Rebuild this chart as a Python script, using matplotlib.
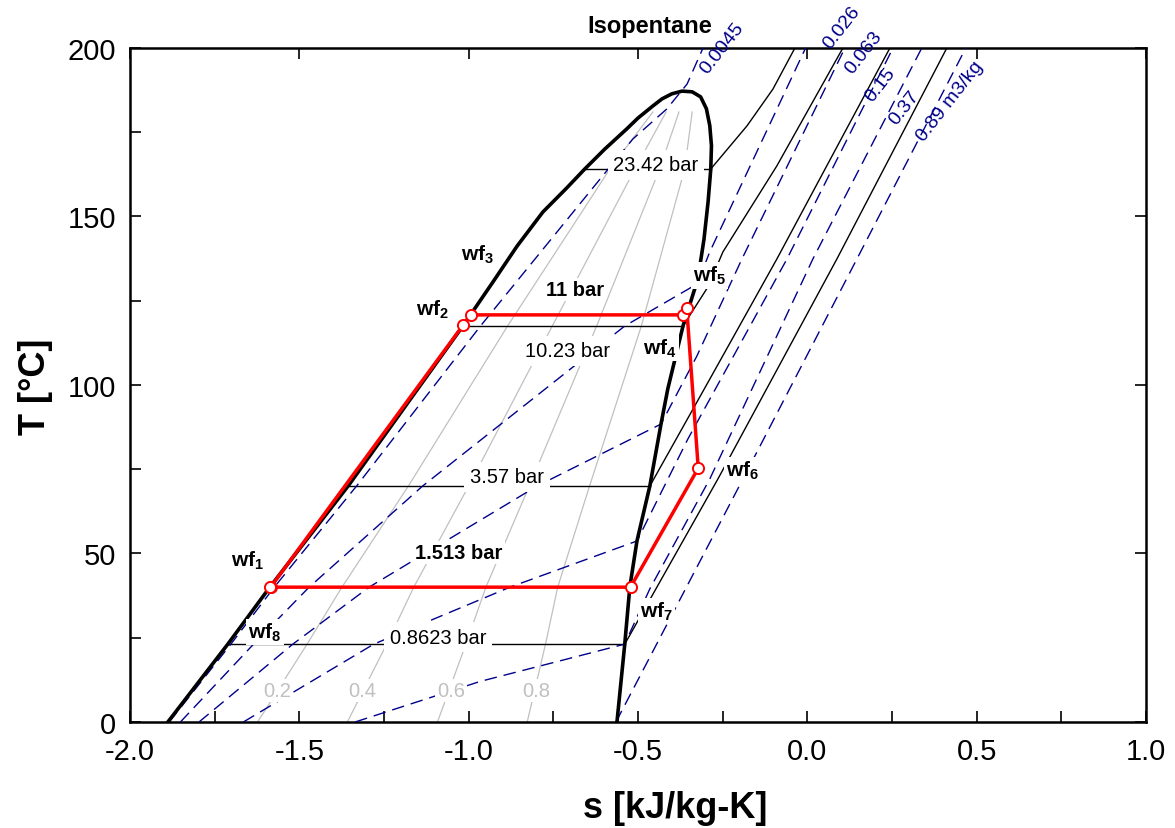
import numpy as np
import matplotlib
matplotlib.use("Agg")
import matplotlib.pyplot as plt
from matplotlib.ticker import MultipleLocator, FormatStrFormatter

plt.rcParams['font.family'] = ['Liberation Sans', 'DejaVu Sans']
plt.rcParams['axes.unicode_minus'] = False
plt.rcParams['mathtext.fontset'] = 'custom'
plt.rcParams['mathtext.rm'] = 'Liberation Sans'
plt.rcParams['mathtext.bf'] = 'Liberation Sans:bold'

# saturation dome (s [kJ/kg-K], T [C]), liquid side up, vapour side down
dome_s = [-1.888, -1.711, -1.587, -1.356, -1.017, -0.928, -0.857, -0.781, -0.710,
          -0.657, -0.598, -0.533, -0.500, -0.456, -0.429, -0.400, -0.370, -0.340,
          -0.315, -0.298, -0.288, -0.283, -0.285, -0.293, -0.305, -0.323, -0.367,
          -0.412, -0.432, -0.465, -0.503, -0.524, -0.539, -0.562]
dome_T = [0.0, 23.1, 40.0, 70.0, 117.5, 130.6, 141.2, 151.3, 158.5,
          164.1, 170.0, 176.0, 179.2, 182.8, 184.9, 186.4, 187.2, 187.0,
          185.5, 182.0, 177.0, 171.0, 164.1, 154.3, 143.3, 131.5, 117.5,
          98.8, 88.4, 70.0, 53.7, 40.1, 23.1, 0.0]

# isobars: name, two-phase temperature, liquid s, vapour s, superheated branch
bar_names = ['23.42 bar', '10.23 bar', '3.57 bar', '0.8623 bar']
bar_T = [164.1, 117.5, 70.0, 23.1]
bar_sl = [-0.657, -1.017, -1.356, -1.711]
bar_sv = [-0.285, -0.367, -0.465, -0.539]
sup_s = [[-0.285, -0.178, -0.1015, -0.0366],
         [-0.367, -0.2934, -0.2491, -0.09, 0.1051],
         [-0.465, -0.2876, -0.0898, 0.2439],
         [-0.539, -0.264, 0.0874, 0.412]]
sup_T = [[164.1, 176.9, 187.8, 200.0],
         [117.5, 129.1, 139.5, 165.0, 200.0],
         [70.0, 101.8, 137.4, 200.0],
         [23.1, 72.1, 137.4, 200.0]]
bar_lab_s = [-0.447, -0.707, -0.887, -1.091]
bar_lab_T = [165.3, 110.1, 72.7, 25.2]

# isochores (m3/kg)
vol_names = ['0.0045', '0.026', '0.063', '0.15', '0.37', '0.89 m3/kg']
vol_s = [[-1.884, -1.702, -1.574, -1.331, -0.965, -0.612, -0.515, -0.415, -0.355, -0.308],
         [-1.851, -1.635, -1.471, -1.136, -0.539, -0.325, -0.288, -0.005],
         [-1.796, -1.519, -1.294, -0.798, -0.432, -0.326, -0.193, 0.111],
         [-1.665, -1.280, -0.878, -0.503, -0.3525, -0.060, 0.253],
         [-1.335, -0.967, -0.539, -0.465, -0.288, 0.0165, 0.338],
         [-0.565, -0.190, 0.1465, 0.468]]
vol_T = [[0.0, 23.1, 40.0, 70.0, 117.5, 161.1, 173.0, 181.9, 189.3, 200.0],
         [0.0, 23.1, 40.0, 70.0, 117.5, 130.0, 139.5, 200.0],
         [0.0, 23.1, 40.0, 70.0, 88.4, 108.6, 137.4, 200.0],
         [0.0, 23.1, 40.0, 53.7, 84.0, 137.4, 200.0],
         [0.0, 12.0, 23.1, 39.5, 72.1, 137.4, 200.0],
         [0.0, 72.1, 137.4, 200.0]]
vol_lab_s = [-0.252, 0.102, 0.167, 0.217, 0.288, 0.421]
vol_lab_T = [200.0, 206.2, 198.8, 189.3, 182.5, 184.3]

# quality lines x = 0.2, 0.4, 0.6, 0.8
q_names = ['0.2', '0.4', '0.6', '0.8']
q_T = [0.0, 23.1, 40.0, 70.0, 117.5, 164.1, 181.0]
q_s = [[-1.623, -1.477, -1.374, -1.178, -0.885, -0.583, -0.456],
       [-1.358, -1.242, -1.162, -1.000, -0.753, -0.509, -0.417],
       [-1.092, -1.008, -0.949, -0.821, -0.622, -0.436, -0.379],
       [-0.827, -0.773, -0.737, -0.643, -0.490, -0.362, -0.340]]
q_lab_s = [-1.566, -1.315, -1.052, -0.801]
q_lab_T = [9.2, 9.2, 9.2, 9.2]

# cycle states wf1..wf8
wf_s = [-1.584, -1.016, -0.994, -0.368, -0.356, -0.322, -0.522, -1.587]
wf_T = [40.1, 117.8, 120.8, 120.8, 122.8, 75.3, 40.0, 40.0]
wf_lab_s = [-1.652, -1.108, -0.973, -0.435, -0.288, -0.190, -0.444, -1.601]
wf_lab_T = [48.1, 122.6, 138.9, 111.0, 132.6, 74.8, 32.9, 26.7]

fig = plt.figure(figsize=(11.75, 8.29), dpi=100)
ax = fig.add_axes([0.1106, 0.1279, 0.9753 - 0.1106, 0.9409 - 0.1279])

for s, lab in zip(q_s, q_names):
    ax.plot(s, q_T, color='#c0c0c0', lw=0.9, zorder=1)
for i in range(4):
    ax.plot([bar_sl[i], bar_sv[i]], [bar_T[i], bar_T[i]], color='black', lw=1.0, zorder=2)
    ax.plot(sup_s[i], sup_T[i], color='black', lw=1.0, zorder=2)
for s, t in zip(vol_s, vol_T):
    ax.plot(s, t, color='#00008b', lw=1.0, dashes=(9, 5), zorder=3)
ax.plot(dome_s, dome_T, color='black', lw=2.6, zorder=4, solid_joinstyle='round')

cyc_s = wf_s + [wf_s[0]]
cyc_T = wf_T + [wf_T[0]]
ax.plot(cyc_s, cyc_T, color='#ff0000', lw=2.5, zorder=5)
ax.plot(wf_s, wf_T, 'o', ms=8, mfc='white', mec='#ff0000', mew=1.4, zorder=6)

wbox = dict(facecolor='white', edgecolor='none', pad=1.5)
bbox_bar = dict(facecolor='white', edgecolor='none', pad=4)
for i in range(4):
    ax.text(bar_lab_s[i], bar_lab_T[i], bar_names[i], fontsize=14.5, ha='center',
            va='center', bbox=bbox_bar, zorder=7)
ax.text(-0.686, 128.2, '11 bar', fontsize=14.5, fontweight='bold', ha='center',
        va='center', bbox=wbox, zorder=7)
ax.text(-1.029, 50.4, '1.513 bar', fontsize=14.5, fontweight='bold', ha='center',
        va='center', bbox=wbox, zorder=7)
for i in range(4):
    ax.text(q_lab_s[i], q_lab_T[i], q_names[i], fontsize=14.5, color='#c0c0c0',
            ha='center', va='center', bbox=wbox, zorder=3.5)
for i in range(6):
    ax.text(vol_lab_s[i], vol_lab_T[i], vol_names[i], fontsize=14, color='#00008b',
            rotation=52, ha='center', va='center', rotation_mode='anchor', zorder=7)
for i in range(8):
    ax.text(wf_lab_s[i], wf_lab_T[i], r'$\mathbf{wf}_{\mathbf{%d}}$' % (i + 1),
            fontsize=15, ha='center', va='center', bbox=wbox, zorder=7)

ax.set_xlim(-2.0, 1.0)
ax.set_ylim(0, 200)
ax.xaxis.set_major_locator(MultipleLocator(0.5))
ax.xaxis.set_minor_locator(MultipleLocator(0.25))
ax.yaxis.set_major_locator(MultipleLocator(50))
ax.yaxis.set_minor_locator(MultipleLocator(25))
ax.xaxis.set_major_formatter(FormatStrFormatter('%.1f'))
ax.tick_params(which='both', direction='in', length=8, width=1.2, top=True, right=True,
               labelsize=21)
ax.tick_params(which='minor', top=False, right=False)
ax.tick_params(axis='x', pad=11)
ax.tick_params(axis='y', pad=10)
for sp in ax.spines.values():
    sp.set_linewidth(1.8)

fig.text(0.553, 0.9686, 'Isopentane', fontsize=17, fontweight='bold', ha='center', va='center')
fig.text(0.575, 0.025, 's [kJ/kg-K]', fontsize=26, fontweight='bold', ha='center', va='center')
fig.text(0.030, 0.534, 'T [°C]', fontsize=26, fontweight='bold', ha='center', va='center',
         rotation=90)

fig.savefig('out.png', dpi=100)
